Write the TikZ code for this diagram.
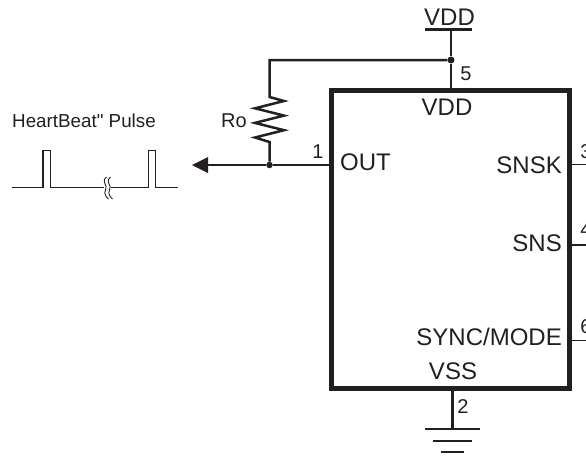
\documentclass[tikz,border=0pt]{standalone}
\usepackage{fontspec}
\setmainfont{Liberation Sans}
\newfontfamily\plainfont{Liberation Sans}
\definecolor{ink}{HTML}{231F20}
\tikzset{
  chip/.style={draw=ink,line width=5pt,minimum width=238pt,minimum height=298pt,inner sep=0pt,outer sep=0pt},
  wire/.style={draw=ink,line width=2.5pt},
  thinwire/.style={draw=ink,line width=1.4pt},
  dot/.style={circle,fill=ink,inner sep=0pt,minimum size=7pt},
  pinlabel/.style={text=ink,font=\fontsize{24}{24}\selectfont,inner sep=0pt},
  pinnum/.style={text=ink,font=\fontsize{20}{20}\selectfont,inner sep=0pt,anchor=base},
  smalllabel/.style={text=ink,font=\plainfont\fontsize{18.8}{18.8}\selectfont,inner sep=0pt,anchor=base west}
}
\begin{document}
\begin{tikzpicture}[x=1pt,y=-1pt]
	\clip (0,0) rectangle (586,455);
	\node[chip] (chip) at (450.5,239) {};
	% supply
	\coordinate (vddtop) at (451,29.5);
	\node[dot] (vddj) at (451,60) {};
	\node[dot,minimum size=6.5pt] (outj) at (269.5,165) {};
	\coordinate (rtop) at (269.5,60);
	\coordinate (rleg) at (269.5,97);
	\coordinate (vddl) at (425,29.5);
	\coordinate (vddr) at (472,29.5);
	\draw[wire] (vddl) -- (vddr);
	\draw[wire] (vddtop) -- (vddj) -- (vddj|-chip.north);
	\draw[wire] (vddj) -- (rtop) -- (rleg) -- ++(14.5,4) -- ++(-29,7.3) -- ++(29,7.3) -- ++(-29,7.3) -- ++(29,7.3)
		-- ++(-29,7.3) -- ++(14.5,4.5) -- (outj);
	% output
	\coordinate (arrowtip) at (192,165);
	\draw[wire] (chip.west|-outj) -- (outj) -- (205,165);
	\fill[ink] (arrowtip) -- (208,157) -- (208,173) -- cycle;
	% right hand pins
	\foreach \y/\n/\lbl/\ybase/\nbase in {164.5/3/SNSK/173/158,245/4/SNS/251.5/236,340.5/6/SYNC\slash MODE/345.5/333}{
		\coordinate (pin\n) at (586,\y);
		\draw[thinwire] (chip.east|-pin\n) -- (pin\n);
		\node[pinnum] at (586,\nbase) {\n};
		\node[pinlabel,anchor=base east] at (562,\ybase) {\lbl};
	}
	% ground
	\coordinate (gnd) at (452.5,429);
	\draw[wire] (chip.south-|gnd) -- (gnd);
	\foreach \y/\w in {429/27.5,441/19.5,452/11.5}
		\draw[wire] (452.5-\w,\y) -- (452.5+\w,\y);
	% labels
	\node[pinlabel,anchor=base] (vddtxt) at (449.5,25) {VDD};
	\node[pinlabel,anchor=base] (vddin) at (447,115) {VDD};
	\node[pinlabel,anchor=base] (vss) at (453,379) {VSS};
	\node[pinlabel,anchor=base west] (out) at (340,170.5) {OUT};
	\node[pinnum] at (466,80) {5};
	\node[pinnum] at (318,158) {1};
	\node[pinnum] at (463,413) {2};
	\node[pinnum,anchor=base east] (ro) at (247,127) {Ro};
	\node[smalllabel] (hb) at (12,127) {HeartBeat" Pulse};
	% pulse
	\draw[thinwire] (12,187.5) -- (43,187.5) -- (43,150.5) -- (50.5,150.5) -- (50.5,187.5) -- (148.5,187.5)
		-- (148.5,150.5) -- (155.5,150.5) -- (155.5,187.5) -- (178,187.5);
	\fill[white] (104,184) rectangle (111,192);
	\draw[draw=ink,line width=.9pt] (106.5,177) .. controls (100.5,182) and (108.5,185) .. (105.5,190) .. controls (103.5,194) and (106.5,197) .. (108.5,199);
	\draw[draw=ink,line width=.9pt] (110.5,177) .. controls (104.5,182) and (112.5,185) .. (109.5,190) .. controls (107.5,194) and (110.5,197) .. (112.5,199);
\end{tikzpicture}
\end{document}
